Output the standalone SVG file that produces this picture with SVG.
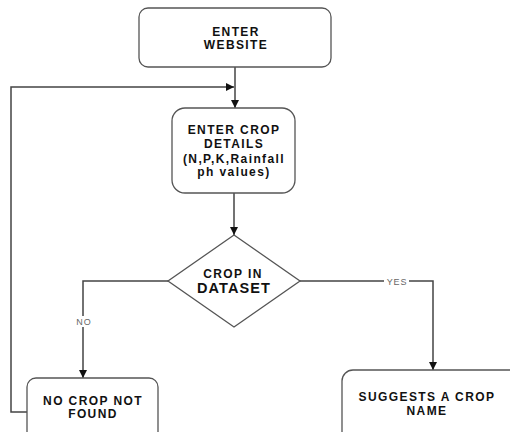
<svg xmlns="http://www.w3.org/2000/svg" width="510" height="432" viewBox="0 0 510 432">
<style>
.box{fill:#fff;stroke:#555;stroke-width:1.3}
.t{font-family:"Liberation Sans",Arial,sans-serif;font-weight:bold;font-size:12px;letter-spacing:1.4px;fill:#111;text-anchor:middle}
.big{font-size:14.5px;letter-spacing:1.1px}
.lbl{font-family:"Liberation Sans",Arial,sans-serif;font-size:9px;letter-spacing:0.9px;fill:#666;text-anchor:middle}
.c{fill:none;stroke:#444;stroke-width:1.5}
</style>
<defs>
<marker id="ah" viewBox="0 0 10 10" refX="10" refY="5" markerWidth="8" markerHeight="8" markerUnits="userSpaceOnUse" orient="auto">
<path d="M0,0 L10,5 L0,10 z" fill="#111"/>
</marker>
</defs>
<rect width="510" height="432" fill="#fff"/>
<g id="connectors">
<path class="c" d="M235,67 L235,108" marker-end="url(#ah)"/>
<path class="c" d="M27,412 L11,412 L11,87 L234,87" marker-end="url(#ah)"/>
<path class="c" d="M234,193 L234,235" marker-end="url(#ah)"/>
<path class="c" d="M168,281 L83,281 L83,378" marker-end="url(#ah)"/>
<path class="c" d="M300,281 L433,281 L433,370" marker-end="url(#ah)"/>
<rect x="73" y="316" width="21" height="11" fill="#fff"/>
<text class="lbl" x="84" y="325">NO</text>
<rect x="384" y="276" width="25" height="10" fill="#fff"/>
<text class="lbl" x="397" y="284.5">YES</text>
</g>
<g id="enter-website">
<rect class="box" x="139" y="8" width="192" height="59" rx="9"/>
<text class="t" x="236" y="36">ENTER</text>
<text class="t" x="236" y="49">WEBSITE</text>
</g>
<g id="enter-crop-details">
<rect class="box" x="172" y="108" width="123" height="85" rx="13"/>
<text class="t" x="234" y="134">ENTER CROP</text>
<text class="t" x="234" y="148">DETAILS</text>
<text class="t" x="234" y="163">(N,P,K,Rainfall</text>
<text class="t" x="234" y="176">ph values)</text>
</g>
<g id="crop-in-dataset">
<polygon class="box" points="234,235 300,281 234,327 168,281"/>
<text class="t" x="233" y="278">CROP IN</text>
<text class="t big" x="234" y="293">DATASET</text>
</g>
<g id="no-crop-not-found">
<rect class="box" x="27" y="378" width="131" height="70" rx="9"/>
<text class="t" x="93" y="405">NO CROP NOT</text>
<text class="t" x="93" y="418">FOUND</text>
</g>
<g id="suggests-a-crop-name">
<rect class="box" x="342" y="370" width="180" height="80" rx="11"/>
<text class="t" x="427" y="401">SUGGESTS A CROP</text>
<text class="t" x="427" y="415">NAME</text>
</g>
</svg>
